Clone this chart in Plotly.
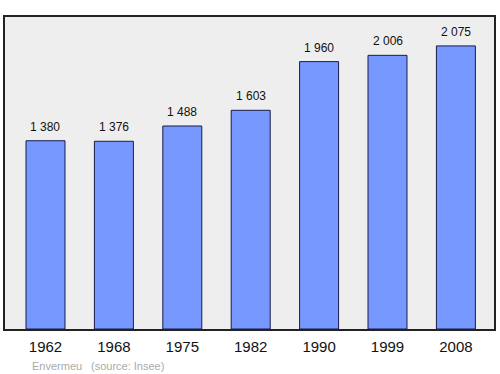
import plotly.graph_objects as go

years = ["1962", "1968", "1975", "1982", "1990", "1999", "2008"]
population = [1380, 1376, 1488, 1603, 1960, 2006, 2075]
labels = ["1 380", "1 376", "1 488", "1 603", "1 960", "2 006", "2 075"]

xpos = list(range(len(years)))
FONT = "Liberation Sans, Arial, sans-serif"

fig = go.Figure()
fig.add_trace(go.Bar(
    x=xpos, y=population, width=0.57,
    marker=dict(color="#7799ff", line=dict(color="#1a1a4a", width=1)),
    hoverinfo="skip",
))

annotations = []
for xi, v, t in zip(xpos, population, labels):
    annotations.append(dict(
        x=xi, y=v, xref="x", yref="y", text=t, showarrow=False,
        yanchor="middle", xanchor="center", yshift=14,
        font=dict(family=FONT, size=12, color="#111111"),
    ))

w_plot = 500 - 5 - 6
h_plot = 374 - 17 - 45
for txt, px, py in [("Envermeu", 30, 366), ("(source: Insee)", 89, 366)]:
    annotations.append(dict(
        text=txt, x=(px - 5) / w_plot, y=(374 - 45 - py) / h_plot,
        xref="paper", yref="paper", showarrow=False,
        xanchor="left", yanchor="middle",
        font=dict(size=11, color="#aaaaaa", family=FONT),
    ))

fig.update_layout(
    width=500, height=374,
    margin=dict(l=5, r=6, t=17, b=45),
    paper_bgcolor="white",
    plot_bgcolor="#eeeeee",
    showlegend=False,
    font=dict(family=FONT),
    xaxis=dict(
        range=[-0.592, 6.557], tickmode="array", tickvals=xpos, ticktext=years,
        showgrid=False, zeroline=False, ticks="", showline=True, mirror=True,
        linecolor="#222222", linewidth=1.5, ticklabelstandoff=3,
        tickfont=dict(size=15, color="#111111"),
    ),
    yaxis=dict(
        range=[0, 2287], showgrid=False, zeroline=False, showticklabels=False,
        ticks="", showline=True, mirror=True, linecolor="#222222", linewidth=1.5,
    ),
    annotations=annotations,
)

fig.write_html("out.html")
